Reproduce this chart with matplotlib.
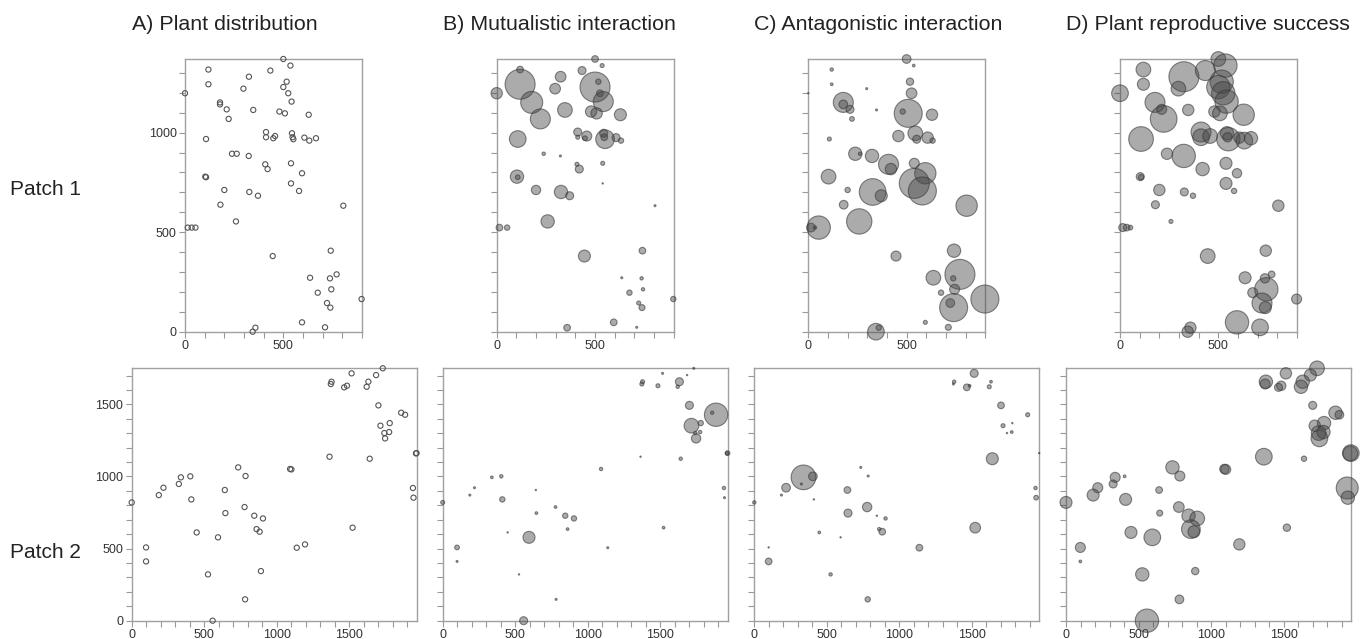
import numpy as np
import matplotlib.pyplot as plt
from matplotlib.ticker import MultipleLocator

plt.rcParams['font.family'] = ['Liberation Sans', 'DejaVu Sans']

# ---- Patch 1: plant positions and per-plant values (bubble radius ~ value)
p1_x = [500, 536, 119, 434, 325, 517, 119, 500, 297, 525,
        0, 542, 178, 178, 212, 347, 222, 480, 508, 629,
        412, 412, 458, 449, 544, 551, 547, 607, 632, 666,
        107, 239, 263, 324, 408, 420, 539, 595, 103, 107,
        200, 327, 371, 539, 580, 180, 805, 259, 14, 34,
        53, 446, 741, 636, 737, 771, 675, 744, 722, 739,
        898, 595, 712, 358, 344]
p1_y = [1370, 1337, 1317, 1312, 1281, 1256, 1243, 1229, 1221, 1198,
        1198, 1156, 1152, 1142, 1117, 1114, 1069, 1106, 1097, 1090,
        1003, 977, 983, 972, 997, 967, 977, 975, 960, 972,
        968, 894, 894, 883, 841, 817, 846, 796, 779, 776,
        712, 702, 683, 745, 707, 638, 633, 554, 523, 523,
        523, 380, 407, 271, 268, 288, 196, 213, 144, 121,
        164, 47, 22, 20, 0]
p1_mut = [10, 6, 10, 12, 16, 8, 45, 45, 16, 10,
          17, 30, 33, 0, 0, 22, 30, 17, 17, 18,
          12, 6, 15, 7, 12, 28, 10, 12, 8, 0,
          25, 5, 0, 3, 6, 12, 6, 0, 20, 7,
          14, 20, 12, 2, 0, 0, 3, 20, 10, 0,
          8, 18, 10, 3, 5, 0, 8, 5, 6, 9,
          8, 10, 3, 10, 0]
p1_ant = [13, 4, 5, 0, 0, 11, 4, 0, 3, 16,
          2, 0, 30, 13, 12, 3, 7, 8, 42, 17,
          0, 0, 17, 0, 22, 12, 0, 17, 8, 0,
          6, 20, 5, 20, 30, 17, 15, 32, 22, 0,
          8, 40, 18, 45, 42, 13, 32, 38, 13, 5,
          35, 15, 20, 22, 8, 45, 8, 15, 13, 42,
          42, 6, 9, 8, 25]
p1_rep = [22, 35, 22, 30, 45, 35, 18, 35, 22, 35,
          25, 35, 30, 0, 15, 17, 40, 17, 22, 32,
          30, 25, 22, 0, 20, 35, 14, 17, 25, 20,
          37, 17, 0, 35, 0, 20, 18, 14, 12, 8,
          17, 12, 8, 18, 8, 12, 17, 6, 12, 10,
          7, 22, 17, 18, 14, 10, 15, 35, 30, 18,
          15, 35, 25, 17, 17]

# ---- Patch 2
p2_x = [1731, 1516, 1685, 1632, 1620, 1378, 1373, 1484, 1465, 1701,
        1858, 1885, 1779, 1715, 1775, 1742, 1747, 1364, 1641, 1964,
        1092, 1101, 734, 785, 404, 339, 325, 219, 187, 0,
        411, 642, 646, 778, 845, 905, 861, 882, 448, 595,
        99, 99, 526, 891, 782, 558, 1138, 1195, 1523, 1939,
        1943, 1960]
p2_y = [1750, 1715, 1703, 1657, 1622, 1657, 1641, 1629, 1618, 1493,
        1442, 1428, 1370, 1352, 1308, 1301, 1264, 1137, 1123, 1162,
        1052, 1049, 1063, 1003, 1001, 994, 948, 922, 871, 820,
        841, 906, 746, 788, 728, 709, 635, 617, 612, 578,
        508, 411, 321, 344, 148, 0, 506, 529, 645, 920,
        853, 1160]
p2_mut = [3, 3, 2, 12, 5, 6, 6, 6, 0, 12,
          5, 35, 8, 22, 5, 5, 14, 2, 5, 7,
          5, 0, 0, 0, 5, 4, 0, 3, 3, 6,
          8, 2, 4, 4, 8, 8, 4, 0, 2, 18,
          7, 3, 2, 0, 3, 12, 3, 0, 4, 5,
          3, 5]
p2_ant = [0, 12, 0, 4, 6, 5, 3, 4, 10, 10,
          0, 6, 2, 6, 4, 2, 0, 0, 18, 2,
          0, 0, 3, 3, 13, 37, 3, 13, 3, 5,
          2, 10, 12, 14, 2, 5, 5, 10, 4, 2,
          2, 10, 5, 0, 8, 0, 10, 0, 16, 5,
          7, 0]
p2_rep = [22, 17, 18, 20, 20, 20, 15, 14, 12, 12,
          20, 13, 20, 17, 20, 22, 25, 25, 8, 25,
          14, 15, 20, 15, 4, 15, 12, 15, 18, 18,
          18, 10, 9, 16, 20, 22, 28, 18, 18, 25,
          15, 4, 20, 11, 13, 35, 0, 17, 11, 33,
          20, 22]

titles = ['A) Plant distribution', 'B) Mutualistic interaction',
          'C) Antagonistic interaction', 'D) Plant reproductive success']
rows = ['Patch 1', 'Patch 2']

W, H = 1367, 639
fig = plt.figure(figsize=(W / 100, H / 100), dpi=100)


def px_axes(left, top, width, height):
    return fig.add_axes([left / W, 1 - (top + height) / H, width / W, height / H])


def draw_panel(ax, xs, ys, vals, xmax, ymax, show_y):
    xs = np.asarray(xs, float)
    ys = np.asarray(ys, float)
    if vals is None:
        ax.scatter(xs, ys, s=14, facecolors='none', edgecolors='#555555',
                   linewidths=0.8, clip_on=False, zorder=3)
    else:
        v = np.asarray(vals, float)
        keep = v > 0
        ax.scatter(xs[keep], ys[keep], s=(0.48 * v[keep]) ** 2,
                   facecolors=(0.27, 0.27, 0.27, 0.45),
                   edgecolors=(0.22, 0.22, 0.22, 0.6),
                   linewidths=0.8, clip_on=False, zorder=3)
    ax.set_xlim(0, xmax)
    ax.set_ylim(0, ymax)
    for axis in (ax.xaxis, ax.yaxis):
        axis.set_major_locator(MultipleLocator(500))
        axis.set_minor_locator(MultipleLocator(100))
    ax.tick_params(which='both', direction='out', length=4, width=0.8,
                   color='#999999', labelsize=9, labelcolor='#333333', pad=2)
    if not show_y:
        ax.tick_params(axis='y', labelleft=False)
    for sp in ax.spines.values():
        sp.set_color('#a0a0a0')
        sp.set_linewidth(1)


top_lefts = [185, 496.7, 808.3, 1120]
bot_lefts = [131.7, 442.7, 754.3, 1066]

p1_vals = [None, p1_mut, p1_ant, p1_rep]
p2_vals = [None, p2_mut, p2_ant, p2_rep]

for i in range(4):
    ax1 = px_axes(top_lefts[i], 59, 177, 272.7)
    draw_panel(ax1, p1_x, p1_y, p1_vals[i], 900, 1370, i == 0)
    ax2 = px_axes(bot_lefts[i], 368.3, 285, 252.4)
    draw_panel(ax2, p2_x, p2_y, p2_vals[i], 1965, 1750, i == 0)
    fig.text(bot_lefts[i] / W, 1 - 25 / H, titles[i], fontsize=15.4,
             ha='left', va='center', color='#222222')

fig.text(10 / W, 1 - 189 / H, rows[0], fontsize=15, ha='left', va='center', color='#222222')
fig.text(10 / W, 1 - 553 / H, rows[1], fontsize=15, ha='left', va='center', color='#222222')

fig.savefig('out.png', dpi=100)
